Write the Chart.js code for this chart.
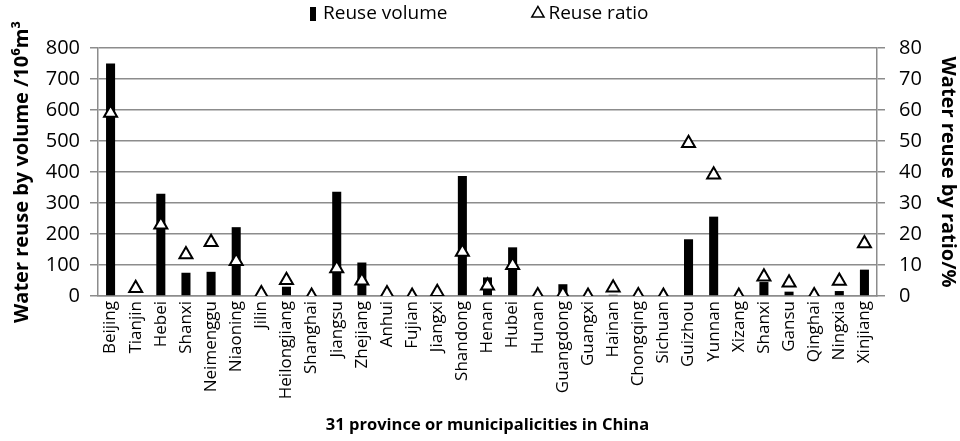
<!DOCTYPE html>
<html>
<head>
<meta charset="utf-8">
<script src="https://cdn.jsdelivr.net/npm/chart.js@4"></script>
<style>
  html, body { margin: 0; padding: 0; background: #fff; }
  #wrap { width: 960px; height: 441px; }
</style>
</head>
<body>
<div id="wrap"><canvas id="reuseChart" width="960" height="441"></canvas></div>
<script>
// Provinces, in the order shown on the x axis
const provinces = ['Beijing', 'Tianjin', 'Hebei', 'Shanxi', 'Neimenggu', 'Niaoning', 'Jilin',
    'Heilongjiang', 'Shanghai', 'Jiangsu', 'Zhejiang', 'Anhui', 'Fujian', 'Jiangxi', 'Shandong',
    'Henan', 'Hubei', 'Hunan', 'Guangdong', 'Guangxi', 'Hainan', 'Chongqing', 'Sichuan',
    'Guizhou', 'Yunnan', 'Xizang', 'Shanxi', 'Gansu', 'Qinghai', 'Ningxia', 'Xinjiang'];

// Reuse volume, 10^6 m3 (left axis)
const reuseVolume = [750, 0, 330, 75, 78, 222, 0, 30, 0, 336, 108, 0, 0, 0, 387,
    60, 157, 0, 38, 0, 4, 0, 0, 183, 256, 0, 45, 14, 0, 16, 85];

// Reuse ratio, % (right axis)
const reuseRatio = [59, 2.5, 23, 13.4, 17.3, 11.2, 0.8, 5.1, 0, 8.9, 4.9, 0.8, 0, 1.2, 14.2,
    3.3, 9.9, 0.2, 0.5, 0, 2.7, 0.2, 0, 49.3, 39.1, 0, 6.2, 4.3, 0.2, 4.8, 16.9];

const volumeTicks = [0, 100, 200, 300, 400, 500, 600, 700, 800];
const ratioTicks = [0, 10, 20, 30, 40, 50, 60, 70, 80];

const fontFamily = '"Open Sans", "DejaVu Sans", sans-serif';
const gridGray = '#8c8c8c';

// narrow black bar used as the legend swatch for the volume series
const barSwatch = document.createElement('canvas');
barSwatch.width = 6;
barSwatch.height = 14;
barSwatch.getContext('2d').fillRect(0, 0, 6, 14);

// keeps the legend band at a fixed height so the plot starts where the original does
const legendBand = {
    id: 'legendBand',
    beforeInit(chart) {
        const lg = chart.legend;
        const fit = lg.fit;
        lg.fit = function () {
            fit.call(this);
            this.height = 48;
        };
    }
};

const ctx = document.getElementById('reuseChart').getContext('2d');
const reuseChart = new Chart(ctx, {
    type: 'bar',
    data: {
        labels: provinces,
        datasets: [{
            label: 'Reuse volume',
            data: reuseVolume,
            backgroundColor: '#000',
            borderWidth: 0,
            barPercentage: 0.36,
            categoryPercentage: 1,
            yAxisID: 'y',
            order: 2
        }, {
            type: 'line',
            label: 'Reuse ratio',
            data: reuseRatio,
            showLine: false,
            pointStyle: 'triangle',
            pointRadius: 7.5,
            pointBorderWidth: 2,
            pointBackgroundColor: '#fff',
            pointBorderColor: '#000',
            backgroundColor: '#fff',
            borderColor: '#000',
            yAxisID: 'y1',
            order: 1
        }]
    },
    plugins: [legendBand],
    options: {
        responsive: false,
        animation: { duration: 0 },
        layout: { padding: 0 },
        plugins: {
            tooltip: { enabled: false },
            legend: {
                position: 'top',
                labels: {
                    usePointStyle: true,
                    boxWidth: 2,
                    boxHeight: 10,
                    padding: 4,
                    color: '#000',
                    font: { family: fontFamily, size: 19 },
                    generateLabels: (chart) => [{
                        text: 'Reuse volume\u2003\u2003\u2003\u2003\u2002',
                        pointStyle: barSwatch,
                        fillStyle: '#000',
                        strokeStyle: '#000',
                        lineWidth: 0,
                        datasetIndex: 0
                    }, {
                        text: 'Reuse ratio',
                        pointStyle: 'triangle',
                        fillStyle: '#fff',
                        strokeStyle: '#000',
                        lineWidth: 1.5,
                        datasetIndex: 1
                    }]
                }
            }
        },
        scales: {
            x: {
                grid: { display: false, drawTicks: false },
                border: { color: gridGray, width: 1.5 },
                ticks: {
                    autoSkip: false,
                    minRotation: 90,
                    maxRotation: 90,
                    padding: 5,
                    color: '#000',
                    font: { family: fontFamily, size: 17 }
                },
                title: {
                    display: true,
                    text: '31 province or municipalicities in China',
                    color: '#000',
                    font: { family: fontFamily, size: 16.5, weight: 'bold' },
                    padding: { top: 6, bottom: 6 }
                },
                afterFit: (scale) => { scale.height = 145; }
            },
            y: {
                position: 'left',
                min: 0,
                max: 800,
                afterBuildTicks: (scale) => { scale.ticks = volumeTicks.map(v => ({ value: v })); },
                grid: { color: gridGray, lineWidth: 1.5, tickLength: 8 },
                border: { color: gridGray, width: 1.5 },
                ticks: {
                    padding: 10,
                    color: '#000',
                    font: { family: fontFamily, size: 20 }
                },
                title: {
                    display: true,
                    text: 'Water reuse by volume /10⁶m³',
                    color: '#000',
                    font: { family: fontFamily, size: 20, weight: 'bold' },
                    padding: { top: 10, bottom: 0 }
                },
                afterFit: (scale) => { scale.width = 98; }
            },
            y1: {
                position: 'right',
                min: 0,
                max: 80,
                afterBuildTicks: (scale) => { scale.ticks = ratioTicks.map(v => ({ value: v })); },
                grid: { drawOnChartArea: false, color: gridGray, lineWidth: 1.5, tickLength: 8 },
                border: { color: gridGray, width: 1.5 },
                ticks: {
                    padding: 14,
                    color: '#000',
                    font: { family: fontFamily, size: 20 }
                },
                title: {
                    display: true,
                    text: 'Water reuse by ratio/%',
                    color: '#000',
                    font: { family: fontFamily, size: 20, weight: 'bold' },
                    padding: { top: 0, bottom: 0 }
                },
                afterFit: (scale) => { scale.width = 83; }
            }
        }
    }
});
</script>
</body>
</html>
